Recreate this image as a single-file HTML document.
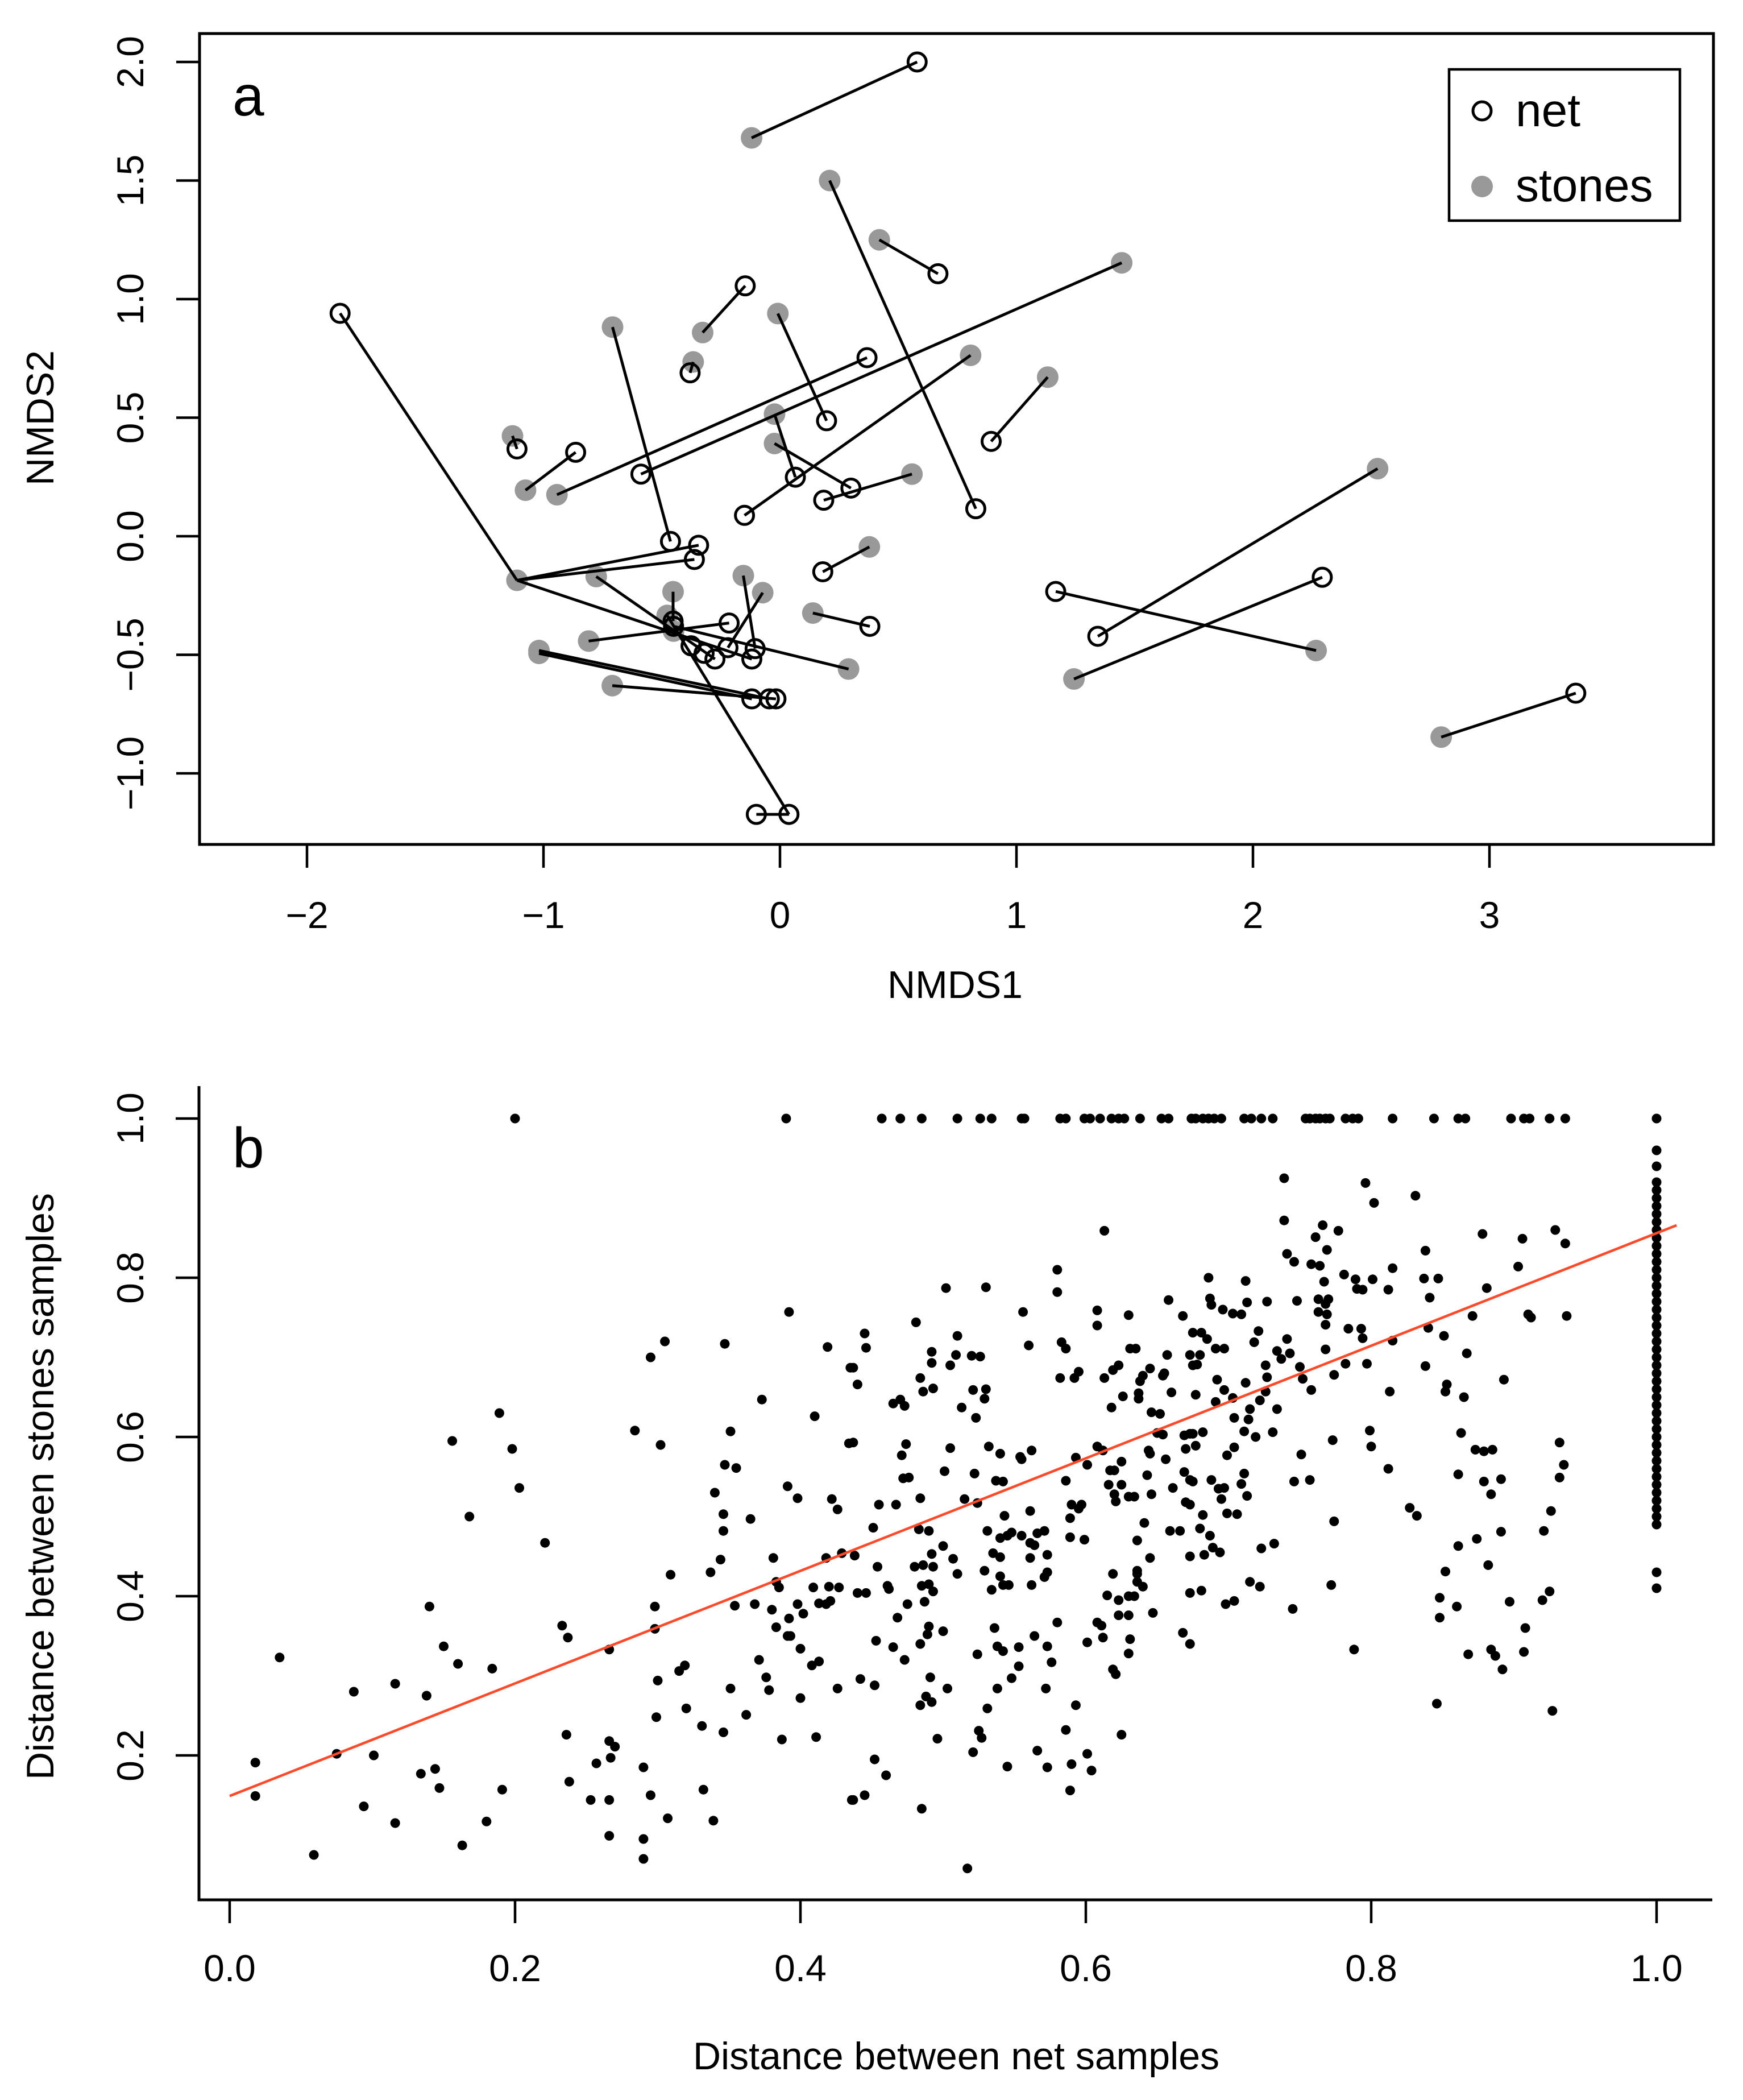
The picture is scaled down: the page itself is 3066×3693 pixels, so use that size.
<!DOCTYPE html>
<html>
<head>
<meta charset="utf-8">
<style>
html,body{margin:0;padding:0;background:#fff;}
svg{display:block;}
text{font-family:"Liberation Sans",Arial,sans-serif;fill:#000;}
</style>
</head>
<body>
<svg id="fig" width="3066" height="3693" viewBox="0 0 3066 3693" xmlns="http://www.w3.org/2000/svg">
  <rect x="0" y="0" width="3066" height="3693" fill="#fff"/>
  <g id="panelA"></g>
  <g id="panelB"></g>
</svg>
<script>
// ---------- Panel a data ----------
const netX = [0.58,0.828,0.668,-0.147,-1.86,0.368,-0.588,-0.380,-1.112,-0.864,0.197,0.893,0.065,0.300,0.185,-0.150,-0.463,-0.344,-0.362,0.181,0.38,1.166,1.344,2.293,3.365,-0.119,-0.275,0.038,-0.100,-0.452,-0.215,-0.105,-0.220,-0.045,-0.119,-0.017,-0.376,-0.321,-0.45];
const netY = [2.00,0.116,1.107,1.056,0.94,0.753,0.262,0.689,0.368,0.354,0.487,0.400,0.249,0.203,0.152,0.088,-0.022,-0.038,-0.098,-0.150,-0.38,-0.233,-0.422,-0.173,-0.662,-0.518,-0.518,-1.173,-1.173,-0.358,-0.366,-0.474,-0.470,-0.686,-0.686,-0.686,-0.462,-0.494,-0.38];
const stonesX = [-0.12,0.21,0.42,1.445,-0.943,-0.327,-0.009,-0.708,-1.131,-0.367,0.806,1.132,-0.023,-0.023,0.558,-1.076,0.378,-1.112,-0.777,-0.477,-0.452,-0.809,-0.155,-0.073,0.139,0.29,-1.019,-1.019,-0.709,2.527,2.267,1.243,2.796,-0.45];
const stonesY = [1.68,1.50,1.25,1.153,0.175,0.859,0.939,0.882,0.423,0.735,0.763,0.671,0.515,0.391,0.262,0.194,-0.045,-0.186,-0.170,-0.334,-0.234,-0.442,-0.166,-0.238,-0.324,-0.56,-0.482,-0.494,-0.630,0.285,-0.482,-0.602,-0.847,-0.40];
const segX1 = [-0.12,0.21,0.42,1.445,0.368,-0.147,-0.009,-0.708,-0.367,-1.131,-1.076,0.806,1.132,-0.023,-0.023,0.558,0.378,0.139,-1.86,-1.112,-1.112,-1.112,-0.777,-0.477,-0.100,-0.452,-0.809,-0.155,-0.073,-1.019,-1.019,-0.709,0.29,1.166,1.344,1.243,2.796];
const segY1 = [1.68,1.50,1.25,1.153,0.753,1.056,0.939,0.882,0.735,0.423,0.194,0.763,0.671,0.515,0.391,0.262,-0.045,-0.324,0.94,-0.186,-0.186,-0.186,-0.170,-0.334,-1.173,-0.234,-0.442,-0.166,-0.238,-0.482,-0.494,-0.630,-0.56,-0.233,-0.422,-0.602,-0.847];
const segX2 = [0.58,0.828,0.668,-0.588,-0.943,-0.327,0.197,-0.463,-0.380,-1.112,-0.864,-0.150,0.893,0.065,0.300,0.185,0.181,0.38,-1.112,-0.344,-0.362,-0.119,-0.275,0.038,0.038,-0.452,-0.215,-0.105,-0.220,-0.045,-0.119,-0.017,-0.45,2.267,2.527,2.293,3.365];
const segY2 = [2.00,0.116,1.107,0.262,0.175,0.859,0.487,-0.022,0.689,0.368,0.354,0.088,0.400,0.249,0.203,0.152,-0.150,-0.38,-0.186,-0.038,-0.098,-0.518,-0.518,-1.173,-1.173,-0.358,-0.366,-0.474,-0.470,-0.686,-0.686,-0.686,-0.38,-0.482,0.285,-0.173,-0.662];
const aXTicks = [-2,-1,0,1,2,3];
const aXTickLabels = ["\u22122","\u22121","0","1","2","3"];
const aYTicks = [-1.0,-0.5,0.0,0.5,1.0,1.5,2.0];
const aYTickLabels = ["\u22121.0","\u22120.5","0.0","0.5","1.0","1.5","2.0"];

// ---------- Panel b data ----------
const topRowX = [0.20,0.39,0.457,0.470,0.485,0.510,0.526,0.534,0.555,0.557,0.582,0.586,0.599,0.603,0.610,0.618,0.623,0.627,0.638,0.653,0.658,0.674,0.677,0.682,0.686,0.690,0.695,0.711,0.716,0.723,0.731,0.754,0.757,0.761,0.764,0.768,0.771,0.782,0.787,0.791,0.815,0.844,0.861,0.866,0.898,0.907,0.911,0.925,0.936,1.0];
const columnY = [0.96,0.94,0.92,0.91,0.90,0.89,0.88,0.87,0.86,0.85,0.84,0.83,0.82,0.81,0.80,0.79,0.78,0.77,0.76,0.75,0.74,0.73,0.72,0.71,0.70,0.69,0.68,0.67,0.66,0.65,0.64,0.63,0.62,0.61,0.60,0.59,0.58,0.57,0.56,0.55,0.54,0.53,0.52,0.51,0.50,0.49,0.43,0.41];
const scatterPts = [
[0.392,0.757],[0.305,0.720],[0.295,0.700],[0.347,0.717],[0.419,0.713],[0.435,0.687],[0.373,0.647],[0.189,0.630],[0.410,0.626],[0.284,0.608],[0.351,0.607],[0.302,0.590],[0.156,0.595],[0.434,0.592],[0.198,0.585],[0.347,0.565],[0.355,0.561],[0.203,0.536],[0.391,0.538],[0.398,0.523],[0.422,0.522],[0.426,0.509],[0.340,0.530],[0.346,0.503],[0.365,0.497],[0.168,0.500],[0.346,0.482],[0.221,0.467],[0.344,0.446],[0.381,0.448],[0.337,0.430],[0.418,0.448],[0.429,0.454],[0.309,0.427],[0.383,0.418],[0.385,0.411],[0.409,0.411],[0.420,0.412],[0.427,0.411],[0.354,0.388],[0.368,0.390],[0.380,0.383],[0.398,0.390],[0.413,0.391],[0.418,0.390],[0.421,0.394],[0.298,0.387],[0.392,0.372],[0.402,0.378],[0.140,0.387],[0.383,0.361],[0.298,0.359],[0.391,0.350],[0.393,0.350],[0.233,0.363],[0.237,0.348],[0.266,0.333],[0.400,0.334],[0.150,0.337],[0.035,0.323],[0.160,0.315],[0.184,0.309],[0.371,0.320],[0.315,0.306],[0.319,0.313],[0.408,0.313],[0.413,0.318],[0.300,0.294],[0.376,0.298],[0.426,0.284],[0.351,0.284],[0.378,0.282],[0.087,0.280],[0.116,0.290],[0.138,0.275],[0.400,0.272],[0.320,0.259],[0.299,0.248],[0.362,0.251],[0.331,0.237],[0.346,0.229],[0.387,0.220],[0.411,0.223],[0.236,0.226],[0.266,0.218],[0.270,0.211],[0.267,0.197],[0.075,0.202],[0.101,0.200],[0.018,0.191],[0.257,0.190],[0.144,0.183],[0.290,0.185],[0.134,0.177],[0.238,0.167],[0.147,0.159],[0.191,0.157],[0.332,0.157],[0.018,0.149],[0.295,0.150],[0.253,0.144],[0.266,0.144],[0.436,0.144],[0.094,0.136],[0.307,0.121],[0.116,0.115],[0.180,0.117],[0.339,0.118],[0.266,0.099],[0.290,0.095],[0.163,0.087],[0.059,0.075],[0.290,0.070],
[0.739,0.925],[0.796,0.919],[0.802,0.894],[0.831,0.903],[0.739,0.872],[0.613,0.859],[0.766,0.866],[0.761,0.851],[0.777,0.859],[0.769,0.835],[0.741,0.830],[0.746,0.820],[0.758,0.817],[0.764,0.815],[0.815,0.812],[0.580,0.810],[0.781,0.804],[0.686,0.800],[0.712,0.796],[0.789,0.798],[0.767,0.795],[0.801,0.798],[0.790,0.786],[0.794,0.785],[0.812,0.785],[0.502,0.787],[0.530,0.788],[0.580,0.782],[0.687,0.774],[0.688,0.766],[0.658,0.772],[0.713,0.769],[0.727,0.770],[0.748,0.771],[0.763,0.773],[0.770,0.773],[0.768,0.767],[0.763,0.757],[0.769,0.754],[0.768,0.741],[0.556,0.757],[0.608,0.759],[0.630,0.753],[0.668,0.752],[0.696,0.760],[0.703,0.755],[0.709,0.754],[0.481,0.744],[0.608,0.740],[0.784,0.736],[0.793,0.736],[0.794,0.724],[0.675,0.731],[0.681,0.731],[0.721,0.733],[0.445,0.730],[0.510,0.727],[0.685,0.723],[0.718,0.719],[0.741,0.723],[0.815,0.721],[0.446,0.712],[0.560,0.715],[0.583,0.719],[0.586,0.711],[0.691,0.711],[0.697,0.711],[0.768,0.710],[0.734,0.708],[0.737,0.698],[0.743,0.705],[0.492,0.707],[0.509,0.703],[0.520,0.702],[0.526,0.701],[0.631,0.711],[0.635,0.711],[0.657,0.703],[0.673,0.703],[0.680,0.703],[0.492,0.693],[0.505,0.690],[0.437,0.687],[0.675,0.690],[0.678,0.691],[0.726,0.690],[0.750,0.688],[0.782,0.692],[0.797,0.692],[0.619,0.684],[0.623,0.690],[0.645,0.686],[0.440,0.666],[0.484,0.674],[0.582,0.674],[0.592,0.674],[0.595,0.682],[0.613,0.674],[0.638,0.670],[0.640,0.677],[0.654,0.677],[0.655,0.680],[0.692,0.672],[0.712,0.668],[0.727,0.675],[0.752,0.673],[0.774,0.678],[0.493,0.661],[0.486,0.657],[0.521,0.659],[0.530,0.660],[0.529,0.648],[0.660,0.656],[0.677,0.653],[0.697,0.659],[0.726,0.657],[0.758,0.659],[0.813,0.657],[0.637,0.655],[0.637,0.648],[0.465,0.642],[0.470,0.647],[0.473,0.639],[0.626,0.651],[0.703,0.649],[0.691,0.644],[0.722,0.646],[0.513,0.637],[0.618,0.637],[0.734,0.635],[0.715,0.635],[0.646,0.631],[0.652,0.629],[0.523,0.624],[0.704,0.624],[0.714,0.622],[0.731,0.606],[0.650,0.605],[0.654,0.603],[0.669,0.602],[0.673,0.604],[0.675,0.604],[0.682,0.606],[0.711,0.607],[0.719,0.600],[0.799,0.608],[0.773,0.596],[0.437,0.593],[0.474,0.591],[0.505,0.586],[0.532,0.588],[0.608,0.588],[0.612,0.583],[0.670,0.585],[0.677,0.589],[0.704,0.587],[0.800,0.588],[0.471,0.577],[0.540,0.579],[0.554,0.575],[0.555,0.572],[0.562,0.583],[0.593,0.574],[0.644,0.583],[0.645,0.579],[0.656,0.572],[0.699,0.577],[0.751,0.578],[0.601,0.565],[0.625,0.569],[0.812,0.560],[0.501,0.557],[0.522,0.554],[0.617,0.558],[0.620,0.558],[0.669,0.556],[0.472,0.548],[0.476,0.549],[0.537,0.545],[0.542,0.544],[0.643,0.552],[0.673,0.546],[0.675,0.544],[0.688,0.546],[0.711,0.554],[0.746,0.544],[0.757,0.546],[0.586,0.545],[0.616,0.540],[0.625,0.540],[0.661,0.536],[0.693,0.535],[0.697,0.536],[0.709,0.541],[0.620,0.528],[0.630,0.525],[0.634,0.525],[0.646,0.528],[0.713,0.526],[0.484,0.523],[0.515,0.522],[0.621,0.519],[0.670,0.518],[0.673,0.515],[0.695,0.522],[0.455,0.515],[0.467,0.515],[0.524,0.517],[0.590,0.515],[0.597,0.515],[0.595,0.510],[0.561,0.507],[0.827,0.511],[0.832,0.501],[0.543,0.501],[0.682,0.502],[0.699,0.504],[0.706,0.503],[0.589,0.498],[0.641,0.492],[0.774,0.494],[0.451,0.486],[0.483,0.484],[0.490,0.482],[0.531,0.482],[0.659,0.482],[0.666,0.482],[0.680,0.485],[0.548,0.480],[0.545,0.476],[0.555,0.476],[0.566,0.479],[0.571,0.482],[0.540,0.473],[0.687,0.476],[0.589,0.474],[0.599,0.471],[0.561,0.467],[0.564,0.464],[0.636,0.470],[0.732,0.466],[0.500,0.463],[0.689,0.461],[0.694,0.455],[0.723,0.460],[0.535,0.454],[0.540,0.449],[0.438,0.451],[0.492,0.453],[0.507,0.447],[0.561,0.448],[0.573,0.452],[0.673,0.450],[0.683,0.452],[0.645,0.448],[0.480,0.437],[0.486,0.439],[0.493,0.437],[0.454,0.437],[0.529,0.432],[0.510,0.428],[0.573,0.430],[0.571,0.424],[0.619,0.428],[0.636,0.432],[0.636,0.428],[0.540,0.425],[0.636,0.418],[0.640,0.412],[0.490,0.415],[0.485,0.413],[0.461,0.413],[0.462,0.409],[0.542,0.414],[0.546,0.414],[0.562,0.414],[0.715,0.418],[0.722,0.412],[0.772,0.414],[0.440,0.404],[0.446,0.404],[0.493,0.406],[0.534,0.408],[0.673,0.404],[0.681,0.407],[0.615,0.401],[0.630,0.400],[0.634,0.400],[0.623,0.395],[0.487,0.393],[0.475,0.390],[0.698,0.390],[0.704,0.394],[0.745,0.384],[0.623,0.376],[0.630,0.376],[0.647,0.379],[0.468,0.373],[0.580,0.367],[0.608,0.367],[0.611,0.363],[0.490,0.362],[0.536,0.360],[0.500,0.356],[0.489,0.352],[0.564,0.350],[0.612,0.348],[0.668,0.354],[0.631,0.346],[0.453,0.344],[0.484,0.340],[0.673,0.340],[0.538,0.337],[0.573,0.337],[0.601,0.342],[0.465,0.336],[0.553,0.336],[0.542,0.331],[0.788,0.333],[0.524,0.327],[0.630,0.328],[0.473,0.320],[0.576,0.317],[0.553,0.312],[0.619,0.308],[0.621,0.302],[0.491,0.298],[0.442,0.296],[0.548,0.297],[0.452,0.288],[0.503,0.284],[0.538,0.284],[0.572,0.284],[0.488,0.274],[0.492,0.267],[0.484,0.263],[0.593,0.263],[0.531,0.259],[0.586,0.232],[0.525,0.231],[0.527,0.222],[0.496,0.221],[0.625,0.226],[0.566,0.206],[0.521,0.204],[0.601,0.202],[0.452,0.195],[0.590,0.189],[0.545,0.186],[0.573,0.185],[0.604,0.181],[0.460,0.175],[0.589,0.156],[0.445,0.150],[0.437,0.144],[0.485,0.133],[0.517,0.058],
[0.878,0.855],[0.929,0.860],[0.906,0.849],[0.936,0.843],[0.838,0.834],[0.903,0.814],[0.837,0.799],[0.847,0.799],[0.841,0.775],[0.881,0.787],[0.871,0.752],[0.910,0.754],[0.912,0.750],[0.937,0.752],[0.840,0.737],[0.851,0.727],[0.867,0.705],[0.838,0.689],[0.893,0.672],[0.853,0.666],[0.852,0.657],[0.865,0.650],[0.863,0.605],[0.932,0.593],[0.873,0.584],[0.879,0.582],[0.885,0.584],[0.935,0.565],[0.861,0.553],[0.932,0.549],[0.879,0.544],[0.891,0.547],[0.884,0.528],[0.926,0.507],[0.891,0.481],[0.921,0.482],[0.874,0.472],[0.861,0.463],[0.882,0.439],[0.852,0.431],[0.848,0.398],[0.925,0.406],[0.860,0.387],[0.897,0.393],[0.920,0.395],[0.848,0.373],[0.908,0.360],[0.868,0.327],[0.884,0.333],[0.887,0.325],[0.907,0.330],[0.892,0.308],[0.846,0.265],[0.927,0.256]
];
const regCoef = [0.149, 0.707];
const regRange = [0.0, 1.014];
const bXTicks = [0.0,0.2,0.4,0.6,0.8,1.0];
const bXTickLabels = ["0.0","0.2","0.4","0.6","0.8","1.0"];
const bYTicks = [0.2,0.4,0.6,0.8,1.0];
const bYTickLabels = ["0.2","0.4","0.6","0.8","1.0"];

const NS = "http://www.w3.org/2000/svg";
function mk(tag, attrs, parent){
  const e = document.createElementNS(NS, tag);
  for (const k in attrs) e.setAttribute(k, attrs[k]);
  parent.appendChild(e);
  return e;
}

// ---------- axis functions ----------
const xA = v => 1372 + v*416;
const yA = v => 943 - v*417;
const xB = v => 404 + v*2510;
const yB = v => 1967 + (1 - v)*1400;

// ---------- Panel a ----------
const A = document.getElementById('panelA');
let e;
e = mk('rect', {x:351, y:59, width:2663, height:1426, fill:'none', stroke:'#000', 'stroke-width':5}, A);



aXTicks.forEach((t,i)=>{
  e = mk('line', {x1:xA(t), y1:1485, x2:xA(t), y2:1526, stroke:'#000', 'stroke-width':4.5}, A);
  
  
  e = mk('text', {x:xA(t), y:1632, 'font-size':66, 'text-anchor':'middle'}, A);
  e.textContent = aXTickLabels[i];
  
  
});
aYTicks.forEach((t,i)=>{
  e = mk('line', {x1:310, y1:yA(t), x2:351, y2:yA(t), stroke:'#000', 'stroke-width':4.5}, A);
  
  
  e = mk('text', {x:0, y:0, 'font-size':66, 'text-anchor':'middle', transform:`translate(252,${yA(t)}) rotate(-90)`}, A);
  e.textContent = aYTickLabels[i];
  
  
});
e = mk('text', {x:1680, y:1755, 'font-size':68, 'text-anchor':'middle'}, A);
e.textContent = 'NMDS1';


e = mk('text', {x:0, y:0, 'font-size':68, 'text-anchor':'middle', transform:'translate(94,735) rotate(-90)'}, A);
e.textContent = 'NMDS2';


e = mk('text', {x:409, y:203, 'font-size':100}, A);
e.textContent = 'a';



stonesX.forEach((x,i)=>{
  e = mk('circle', {cx:xA(x), cy:yA(stonesY[i]), r:19, fill:'#999'}, A);
  
  
});
netX.forEach((x,i)=>{
  e = mk('circle', {cx:xA(x), cy:yA(netY[i]), r:16, fill:'none', stroke:'#000', 'stroke-width':5}, A);
  
  
});
segX1.forEach((x,i)=>{
  e = mk('line', {x1:xA(x), y1:yA(segY1[i]), x2:xA(segX2[i]), y2:yA(segY2[i]), stroke:'#000', 'stroke-width':5}, A);
  
  
});

const L = mk('g', {}, A);


e = mk('rect', {x:2549, y:122, width:406, height:266, fill:'#fff', stroke:'#000', 'stroke-width':4.5}, L);


e = mk('circle', {cx:2607, cy:195, r:16, fill:'none', stroke:'#000', 'stroke-width':5}, L);


e = mk('text', {x:2666, y:222, 'font-size':82}, L);
e.textContent = 'net';


e = mk('circle', {cx:2607, cy:328, r:19, fill:'#999'}, L);


e = mk('text', {x:2666, y:354, 'font-size':82}, L);
e.textContent = 'stones';



// ---------- Panel b ----------
const B = document.getElementById('panelB');
e = mk('polyline', {points:'350,1910 350,3341 3012,3341', fill:'none', stroke:'#000', 'stroke-width':5}, B);


bXTicks.forEach((t,i)=>{
  e = mk('line', {x1:xB(t), y1:3341, x2:xB(t), y2:3382, stroke:'#000', 'stroke-width':4.5}, B);
  
  
  e = mk('text', {x:xB(t), y:3484, 'font-size':66, 'text-anchor':'middle'}, B);
  e.textContent = bXTickLabels[i];
  
  
});
bYTicks.forEach((t,i)=>{
  e = mk('line', {x1:309, y1:yB(t), x2:350, y2:yB(t), stroke:'#000', 'stroke-width':4.5}, B);
  
  
  e = mk('text', {x:0, y:0, 'font-size':66, 'text-anchor':'middle', transform:`translate(252,${yB(t)}) rotate(-90)`}, B);
  e.textContent = bYTickLabels[i];
  
  
});
e = mk('text', {x:1682, y:3639, 'font-size':68, 'text-anchor':'middle'}, B);
e.textContent = 'Distance between net samples';


e = mk('text', {x:0, y:0, 'font-size':68, 'text-anchor':'middle', transform:'translate(94,2614) rotate(-90)'}, B);
e.textContent = 'Distance between stones samples';


e = mk('text', {x:409, y:2053, 'font-size':100}, B);
e.textContent = 'b';



topRowX.forEach(x=>{
  e = mk('circle', {cx:xB(x), cy:yB(1.0), r:8.5, fill:'#000'}, B);
  
  
});
columnY.forEach(y=>{
  e = mk('circle', {cx:xB(1.0), cy:yB(y), r:8.5, fill:'#000'}, B);
  
  
});
scatterPts.forEach(p=>{
  e = mk('circle', {cx:xB(p[0]), cy:yB(p[1]), r:8.5, fill:'#000'}, B);
  
  
});
e = mk('line', {x1:xB(regRange[0]), y1:yB(regCoef[0]+regCoef[1]*regRange[0]), x2:xB(regRange[1]), y2:yB(regCoef[0]+regCoef[1]*regRange[1]), stroke:'#ff4a2a', 'stroke-width':4.5}, B);


</script>
</body>
</html>
